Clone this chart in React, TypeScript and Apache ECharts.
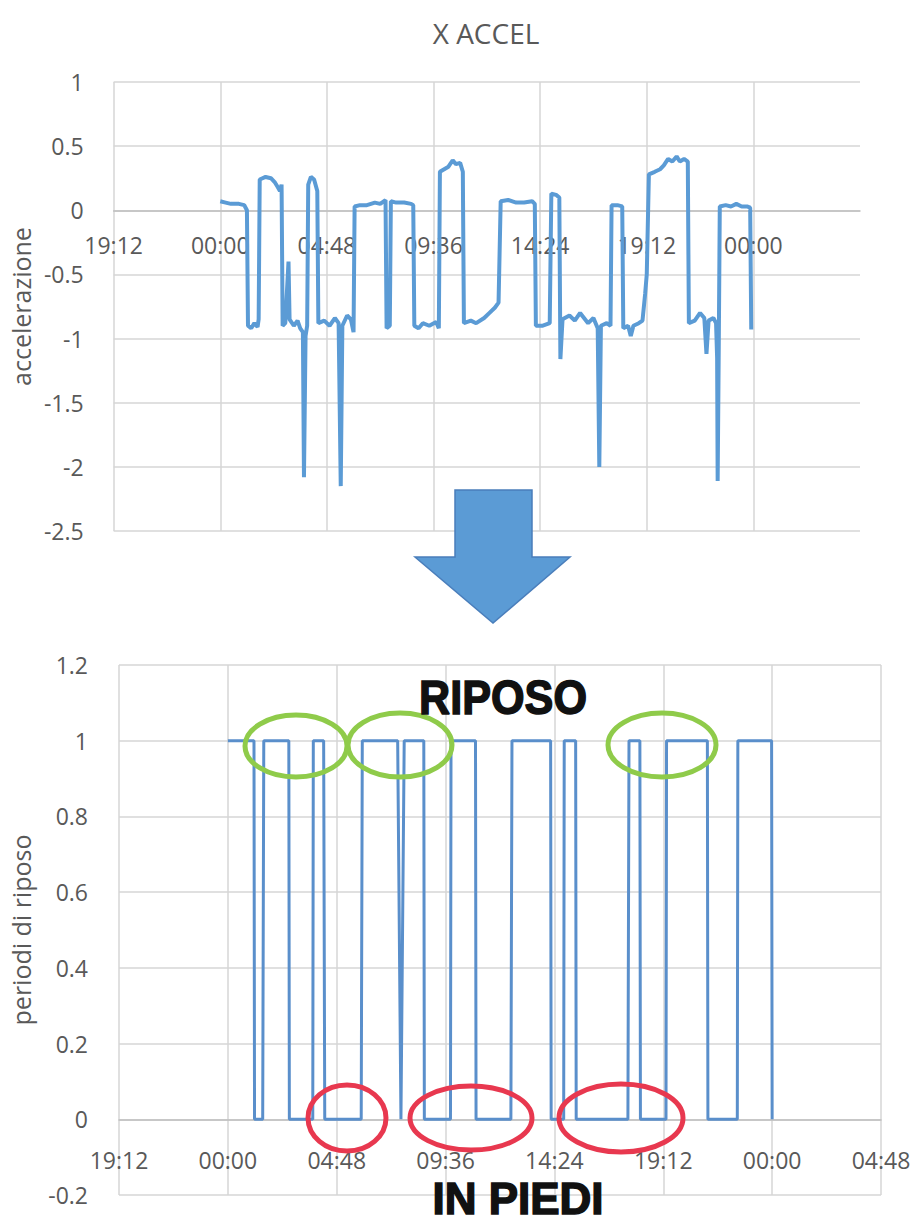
import React, { useEffect, useRef } from "react";
import * as echarts from "echarts";

// ---- data: X acceleration (time as fraction of day, value in g) ----
const accelT = [
  0.000, 0.010, 0.020, 0.035, 0.045, 0.050, 0.052, 0.058, 0.064, 0.070,
  0.072, 0.074, 0.085, 0.095, 0.102, 0.108, 0.112, 0.115, 0.117, 0.122,
  0.128, 0.130, 0.138, 0.145, 0.150, 0.155, 0.157, 0.160, 0.163, 0.165,
  0.170, 0.176, 0.182, 0.184, 0.195, 0.205, 0.215, 0.222, 0.226, 0.229,
  0.238, 0.245, 0.250, 0.252, 0.262, 0.275, 0.290, 0.300, 0.310, 0.312,
  0.318, 0.320, 0.330, 0.345, 0.358, 0.362, 0.364, 0.372, 0.380, 0.392,
  0.405, 0.410, 0.412, 0.420, 0.428, 0.436, 0.442, 0.450, 0.455, 0.457,
  0.470, 0.480, 0.495, 0.505, 0.515, 0.522, 0.526, 0.540, 0.555, 0.570,
  0.585, 0.590, 0.592, 0.605, 0.618, 0.621, 0.630, 0.636, 0.638, 0.642,
  0.655, 0.665, 0.675, 0.690, 0.700, 0.708, 0.711, 0.714, 0.725, 0.732,
  0.734, 0.745, 0.754, 0.756, 0.765, 0.770, 0.775, 0.785, 0.792, 0.797,
  0.800, 0.804, 0.815, 0.825, 0.832, 0.840, 0.848, 0.856, 0.862, 0.870,
  0.877, 0.879, 0.890, 0.900, 0.908, 0.912, 0.916, 0.925, 0.930, 0.932,
  0.933, 0.935, 0.937, 0.948, 0.958, 0.968, 0.978, 0.988, 0.994, 0.996,
];
const accelV = [
  0.07, 0.06, 0.05, 0.05, 0.04, 0.00, -0.90, -0.92, -0.88, -0.91,
  -0.85, 0.24, 0.26, 0.25, 0.22, 0.18, 0.15, 0.20, -0.90, -0.88,
  -0.40, -0.85, -0.90, -0.86, -0.92, -0.95, -2.08, -0.98, -0.90, 0.20,
  0.26, 0.24, 0.15, -0.88, -0.86, -0.90, -0.84, -0.88, -2.15, -0.90,
  -0.82, -0.85, -0.95, 0.03, 0.04, 0.04, 0.06, 0.05, 0.08, -0.92,
  -0.90, 0.07, 0.06, 0.06, 0.05, 0.04, -0.90, -0.92, -0.88, -0.90,
  -0.87, -0.92, 0.30, 0.32, 0.34, 0.39, 0.36, 0.37, 0.30, -0.88,
  -0.86, -0.88, -0.84, -0.80, -0.76, -0.72, 0.07, 0.08, 0.06, 0.06,
  0.07, 0.05, -0.90, -0.90, -0.88, 0.13, 0.12, 0.10, -1.16, -0.85,
  -0.82, -0.86, -0.80, -0.88, -0.84, -0.92, -2.00, -0.90, -0.88, -0.90,
  0.04, 0.04, 0.03, -0.92, -0.90, -0.98, -0.90, -0.88, -0.86, -0.65,
  -0.50, 0.28, 0.30, 0.32, 0.35, 0.40, 0.38, 0.42, 0.38, 0.40,
  0.38, -0.88, -0.86, -0.80, -0.84, -1.12, -0.86, -0.84, -0.88, -1.15,
  -2.11, -1.10, 0.03, 0.04, 0.03, 0.05, 0.03, 0.03, 0.02, -0.93,
];

// ---- data: rest periods (1 = riposo, 0 = in piedi) ----
const restT = [
  0.000, 0.048, 0.049, 0.064, 0.066, 0.112, 0.113, 0.156, 0.157, 0.176,
  0.178, 0.245, 0.247, 0.312, 0.318, 0.324, 0.360, 0.361, 0.409, 0.410,
  0.455, 0.456, 0.520, 0.522, 0.593, 0.594, 0.617, 0.618, 0.639, 0.640,
  0.735, 0.737, 0.757, 0.758, 0.805, 0.806, 0.881, 0.882, 0.936, 0.937,
  0.999, 1.000,
];
const restV = [
  1, 1, 0, 0, 1, 1, 0, 0, 1, 1,
  0, 0, 1, 1, 0, 1, 1, 0, 0, 1,
  1, 0, 0, 1, 1, 0, 0, 1, 1, 0,
  0, 1, 1, 0, 0, 1, 1, 0, 0, 1,
  1, 0,
];

const xTicksTop = ["19:12", "00:00", "04:48", "09:36", "14:24", "19:12", "00:00", ""];
const xTicksBottom = ["19:12", "00:00", "04:48", "09:36", "14:24", "19:12", "00:00", "04:48"];

const FONT = "'Open Sans', 'Noto Sans', sans-serif";
const LABEL = "#595959";
const GRID = "#D6D6D6";
const BLUE = "#5B9BD5";

const tickIndex = (v: number) => Math.round((v + 0.2) / 0.2);

export default function App() {
  const ref = useRef<HTMLDivElement>(null);

  useEffect(() => {
    if (!ref.current) return;
    const chart = echarts.init(ref.current, null, { renderer: "svg" });

    const labelStyle = { color: LABEL, fontSize: 23, fontFamily: FONT };
    const gridLineColors = (n: number, hideLast: boolean) =>
      Array.from({ length: n }, (_, i) => (hideLast && i === n - 1 ? "rgba(0,0,0,0)" : GRID));

    const option: any = {
      animation: false,
      backgroundColor: "#ffffff",
      title: {
        text: "X ACCEL",
        left: 481,
        top: 14,
        textAlign: "center",
        textStyle: { color: LABEL, fontSize: 28, fontWeight: "normal", fontFamily: FONT },
      },
      grid: [
        { left: 112, top: 82, width: 748, height: 449 },
        { left: 118, top: 665, width: 763, height: 530 },
      ],
      xAxis: [
        {
          gridIndex: 0,
          type: "value",
          min: -0.2,
          max: 1.2,
          interval: 0.2,
          axisLine: { onZero: true, lineStyle: { color: "#BFBFBF", width: 1.5 } },
          axisTick: { show: false },
          axisLabel: {
            ...labelStyle,
            margin: -298,
            showMinLabel: true,
            showMaxLabel: true,
            formatter: (v: number) => xTicksTop[tickIndex(v)] ?? "",
          },
          splitLine: { show: true, lineStyle: { color: gridLineColors(8, true), width: 1.5 } },
        },
        {
          gridIndex: 1,
          type: "value",
          min: -0.2,
          max: 1.2,
          interval: 0.2,
          axisLine: { onZero: true, lineStyle: { color: "#BFBFBF", width: 1.5 } },
          axisTick: { show: false },
          axisLabel: {
            ...labelStyle,
            margin: -47,
            showMinLabel: true,
            showMaxLabel: true,
            formatter: (v: number) => xTicksBottom[tickIndex(v)] ?? "",
          },
          splitLine: { show: true, lineStyle: { color: gridLineColors(8, false), width: 1.5 } },
        },
      ],
      yAxis: [
        {
          gridIndex: 0,
          type: "value",
          min: -2.5,
          max: 1,
          interval: 0.5,
          axisLine: { show: false },
          axisTick: { show: false },
          axisLabel: { ...labelStyle, margin: 30 },
          splitLine: { lineStyle: { color: GRID, width: 1.5 } },
          name: "accelerazione",
          nameLocation: "middle",
          nameGap: 76,
          nameTextStyle: { color: LABEL, fontSize: 25, fontFamily: FONT },
        },
        {
          gridIndex: 1,
          type: "value",
          min: -0.2,
          max: 1.2,
          interval: 0.2,
          axisLine: { show: false },
          axisTick: { show: false },
          axisLabel: { ...labelStyle, margin: 31 },
          splitLine: { lineStyle: { color: GRID, width: 1.5 } },
          name: "periodi di riposo",
          nameLocation: "middle",
          nameGap: 86,
          nameTextStyle: { color: LABEL, fontSize: 25, fontFamily: FONT },
        },
      ],
      series: [
        {
          type: "line",
          xAxisIndex: 0,
          yAxisIndex: 0,
          data: accelT.map((t, i) => [t, accelV[i]]),
          symbol: "none",
          lineStyle: { color: BLUE, width: 4 },
          z: 3,
        },
        {
          type: "line",
          xAxisIndex: 1,
          yAxisIndex: 1,
          data: restT.map((t, i) => [t, restV[i]]),
          symbol: "none",
          lineStyle: { color: "#5A8FCB", width: 3 },
          z: 3,
        },
      ],
      graphic: [
        {
          type: "polygon",
          z: 100,
          shape: {
            points: [
              [455, 490], [532, 490], [532, 557], [570, 557],
              [493, 623], [415, 557], [455, 557],
            ],
          },
          style: { fill: BLUE, stroke: "#4A7EBB", lineWidth: 1.5 },
        },
        { type: "ellipse", z: 100, shape: { cx: 296, cy: 746, rx: 51, ry: 31 }, style: { fill: "none", stroke: "#8FCB4A", lineWidth: 5 } },
        { type: "ellipse", z: 100, shape: { cx: 400, cy: 745, rx: 52, ry: 32 }, style: { fill: "none", stroke: "#8FCB4A", lineWidth: 5 } },
        { type: "ellipse", z: 100, shape: { cx: 662, cy: 745, rx: 54, ry: 32 }, style: { fill: "none", stroke: "#8FCB4A", lineWidth: 5 } },
        { type: "ellipse", z: 100, shape: { cx: 347, cy: 1118, rx: 39, ry: 33 }, style: { fill: "none", stroke: "#E8384F", lineWidth: 5 } },
        { type: "ellipse", z: 100, shape: { cx: 471, cy: 1118, rx: 61, ry: 32 }, style: { fill: "none", stroke: "#E8384F", lineWidth: 5 } },
        { type: "ellipse", z: 100, shape: { cx: 621, cy: 1118, rx: 62, ry: 34 }, style: { fill: "none", stroke: "#E8384F", lineWidth: 5 } },
        {
          type: "text",
          z: 100,
          x: 503,
          y: 698,
          scaleX: 0.9,
          style: {
            text: "RIPOSO",
            fill: "#111111",
            stroke: "#111111",
            lineWidth: 1.5,
            font: "bold 48px 'Liberation Sans', Arial, sans-serif",
            textAlign: "center",
            textVerticalAlign: "middle",
            align: "center",
            verticalAlign: "middle",
          },
        },
        {
          type: "text",
          z: 100,
          x: 518,
          y: 1198,
          style: {
            text: "IN PIEDI",
            fill: "#111111",
            stroke: "#111111",
            lineWidth: 1.5,
            font: "bold 44px 'Liberation Sans', Arial, sans-serif",
            textAlign: "center",
            textVerticalAlign: "middle",
            align: "center",
            verticalAlign: "middle",
          },
        },
      ],
    };

    chart.setOption(option);
    return () => chart.dispose();
  }, []);

  return (
    <div
      ref={ref}
      style={{ position: "absolute", left: 0, top: 0, width: 918, height: 1227, background: "#fff" }}
    />
  );
}
